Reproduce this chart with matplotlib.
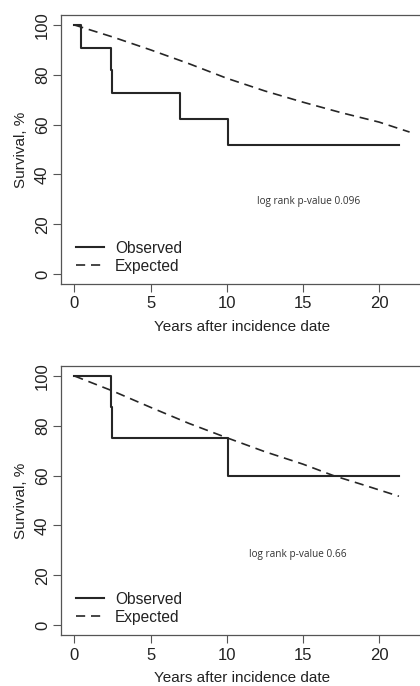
import matplotlib
matplotlib.use("Agg")
import matplotlib.pyplot as plt

plt.rcParams['font.family'] = ['Liberation Sans', 'DejaVu Sans']

# panel 1 (top)
obs1_t = [0, 0.4, 2.4, 2.5, 6.9, 10.1, 21.3]
obs1_s = [100, 90.9, 81.8, 72.7, 62.3, 51.9, 51.9]
exp1_t = [0, 2.5, 5, 7.5, 10, 12.5, 15, 17.5, 20, 22]
exp1_s = [100, 95.2, 90.0, 84.5, 78.6, 73.5, 69.0, 64.8, 61.0, 57.0]
pval1 = "log rank p-value 0.096"

# panel 2 (bottom)
obs2_t = [0, 2.4, 2.5, 10.1, 21.3]
obs2_s = [100, 87.5, 75.0, 60.0, 60.0]
exp2_t = [0, 2.5, 5, 7.5, 10, 12.5, 15, 17, 19, 21.3]
exp2_s = [100, 94.0, 87.4, 81.0, 75.2, 69.6, 64.6, 60.0, 56.2, 51.7]
pval2 = "log rank p-value 0.66"

xticks = [0, 5, 10, 15, 20]
yticks = [0, 20, 40, 60, 80, 100]

W, H = 420, 686
fig = plt.figure(figsize=(W / 100, H / 100), dpi=100)
fig.patch.set_facecolor('white')

panels = [
    (obs1_t, obs1_s, exp1_t, exp1_s, pval1, (61, 15, 423, 284), (309, 202)),
    (obs2_t, obs2_s, exp2_t, exp2_s, pval2, (61, 366, 423, 635), (298, 555)),
]

line_col = '#262626'
for ot, os_, et, es, pv, (l, t, r, b), (px, py) in panels:
    ax = fig.add_axes([l / W, 1 - b / H, (r - l) / W, (b - t) / H])
    ax.step(ot, os_, where='post', color=line_col, lw=1.5, label='Observed')
    ax.plot(et, es, color=line_col, lw=1.2, ls=(0, (5.5, 3.5)), label='Expected')
    ax.set_xlim(-0.88, 22.88)
    ax.set_ylim(-4, 104)
    ax.set_xticks(xticks)
    ax.set_yticks(yticks)
    ax.set_yticklabels([str(v) for v in yticks], rotation=90, va='center')
    ax.tick_params(direction='out', length=5.5, width=0.8, color='#555555',
                   labelsize=12, labelcolor='#222222')
    ax.tick_params(axis='y', pad=2.5)
    ax.tick_params(axis='x', pad=3.5)
    for s in ax.spines.values():
        s.set_color('#555555')
        s.set_linewidth(0.9)
    ax.set_xlabel('Years after incidence date', fontsize=11, color='#222222', labelpad=6)
    ax.set_ylabel('Survival, %', fontsize=11, color='#222222', labelpad=5)
    leg = ax.legend(loc='lower left', frameon=False, fontsize=11.2, handlelength=1.8,
                    handletextpad=0.7, labelspacing=0.2, borderaxespad=0.0,
                    bbox_to_anchor=(0.025, 0.015))
    for txt in leg.get_texts():
        txt.set_color('#222222')
    fig.text(px / W, 1 - py / H, pv, family=['Open Sans', 'DejaVu Sans'], fontsize=7.2,
             color='#333333', ha='center', va='center')

fig.savefig('out.png', dpi=100, facecolor='white')
